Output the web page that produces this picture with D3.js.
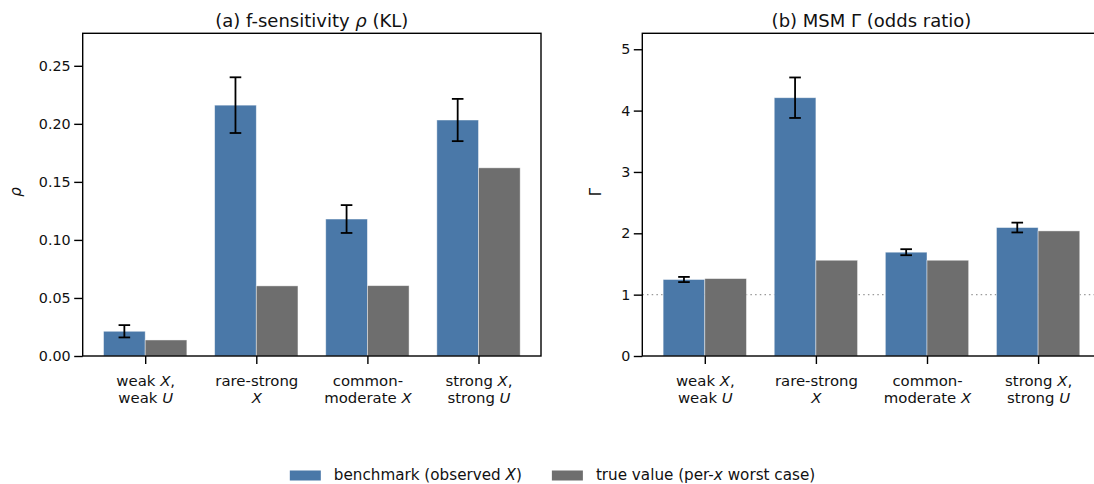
<!DOCTYPE html>
<html>
<head>
<meta charset="utf-8">
<script src="https://cdn.jsdelivr.net/npm/d3@7"></script>
<style>
  html, body { margin: 0; padding: 0; background: #fff; }
  svg { display: block; font-family: "DejaVu Sans", sans-serif; }
</style>
</head>
<body>
<svg id="chart" width="1094" height="484"></svg>
<script>
// Scenario labels: "|" separates lines, $...$ marks italic symbols
const categories = ["weak $X$,|weak $U$", "rare-strong|$X$", "common-|moderate $X$", "strong $X$,|strong $U$"];

// Panel (a): f-sensitivity rho (KL)
const rhoBenchmark = [0.0213, 0.2161, 0.1180, 0.2033];
const rhoBenchmarkErr = [0.0053, 0.0240, 0.0120, 0.0182];
const rhoTrue = [0.0138, 0.0604, 0.0606, 0.1621];
const rhoTicks = [0, 0.05, 0.10, 0.15, 0.20, 0.25];
const rhoMax = 0.278;

// Panel (b): MSM Gamma (odds ratio)
const gammaBenchmark = [1.247, 4.21, 1.692, 2.094];
const gammaBenchmarkErr = [0.042, 0.33, 0.049, 0.08];
const gammaTrue = [1.262, 1.561, 1.561, 2.039];
const gammaTicks = [0, 1, 2, 3, 4, 5];
const gammaMax = 5.26;
const gammaReference = 1;

const seriesNames = ["benchmark (observed $X$)", "true value (per-$x$ worst case)"];
const colors = ["#4a78a8", "#6e6e6e"];

const svg = d3.select("#chart");
const barWidth = 0.375;
const axW = 458.3, axTop = 33.3, axBottom = 356;

// Renders mathtext-like strings with $...$ italic segments into a text element
function richText(sel, str) {
  str.split("$").forEach((part, k) => {
    if (!part) return;
    sel.append("tspan").attr("font-style", k % 2 ? "italic" : null).text(part);
  });
}

function panel(opts) {
  const g = svg.append("g");
  const x = d3.scaleLinear().domain([-0.5625, 3.5625]).range([opts.left, opts.left + axW]);
  const y = d3.scaleLinear().domain([0, opts.ymax]).range([axBottom, axTop]);
  const idx = d3.range(categories.length);

  // reference line
  if (opts.refLine !== undefined) {
    g.append("line")
      .attr("x1", x.range()[0]).attr("x2", x.range()[1])
      .attr("y1", y(opts.refLine)).attr("y2", y(opts.refLine))
      .attr("stroke", "#999").attr("stroke-width", 1.4)
      .attr("stroke-dasharray", "1.5,3.2");
  }

  // benchmark bars
  g.selectAll("rect.bench").data(idx).join("rect").attr("class", "bench")
    .attr("x", i => x(i - barWidth)).attr("width", x(barWidth) - x(0))
    .attr("y", i => y(opts.bench[i])).attr("height", i => y(0) - y(opts.bench[i]))
    .attr("fill", colors[0]).attr("stroke", "#fff").attr("stroke-opacity", 0.55).attr("stroke-width", 0.8);

  // true value bars
  g.selectAll("rect.truth").data(idx).join("rect").attr("class", "truth")
    .attr("x", i => x(i)).attr("width", x(barWidth) - x(0))
    .attr("y", i => y(opts.truth[i])).attr("height", i => y(0) - y(opts.truth[i]))
    .attr("fill", colors[1]).attr("stroke", "#fff").attr("stroke-opacity", 0.55).attr("stroke-width", 0.8);

  // error bars on the benchmark
  const eb = g.selectAll("g.err").data(idx).join("g").attr("class", "err")
    .attr("stroke", "#000").attr("stroke-width", 1.8);
  const cx = i => x(i - barWidth / 2);
  eb.append("line").attr("x1", cx).attr("x2", cx)
    .attr("y1", i => y(opts.bench[i] - opts.err[i])).attr("y2", i => y(opts.bench[i] + opts.err[i]));
  [-1, 1].forEach(s => {
    eb.append("line").attr("x1", i => cx(i) - 5.8).attr("x2", i => cx(i) + 5.8)
      .attr("y1", i => y(opts.bench[i] + s * opts.err[i])).attr("y2", i => y(opts.bench[i] + s * opts.err[i]));
  });

  // y axis
  const yAxis = g.append("g").attr("transform", `translate(${opts.left},0)`)
    .call(d3.axisLeft(y).tickValues(opts.ticks).tickFormat(opts.fmt).tickSize(8.5).tickPadding(3.5));
  yAxis.select(".domain").remove();
  yAxis.selectAll(".tick line").attr("stroke-width", 1.4);
  yAxis.selectAll(".tick text").attr("font-size", 14.3).attr("fill", "#111").attr("font-family", "DejaVu Sans");

  // x axis
  const xAxis = g.append("g").attr("transform", `translate(0,${axBottom})`)
    .call(d3.axisBottom(x).tickValues(idx).tickFormat("").tickSize(8).tickSizeOuter(0));
  xAxis.select(".domain").remove();
  xAxis.selectAll(".tick line").attr("stroke-width", 1.4);
  xAxis.selectAll(".tick").each(function(i) {
    const t = d3.select(this).append("text").attr("fill", "#111").attr("font-size", 14.9)
      .attr("font-family", "DejaVu Sans").attr("text-anchor", "middle");
    categories[i].split("|").forEach((line, k) => {
      const tl = t.append("tspan").attr("x", 0).attr("y", 30 + k * 17);
      line.split("$").forEach((part, m) => {
        if (!part) return;
        tl.append("tspan").attr("font-style", m % 2 ? "italic" : null).text(part);
      });
    });
  });

  // frame
  g.append("rect").attr("x", opts.left).attr("y", axTop)
    .attr("width", axW).attr("height", axBottom - axTop)
    .attr("fill", "none").attr("stroke", "#000").attr("stroke-width", 1.4);

  // title
  const title = g.append("text").attr("x", opts.left + axW / 2).attr("y", 26.5)
    .attr("text-anchor", "middle").attr("font-size", 18).attr("fill", "#111");
  richText(title, opts.title);

  // y label
  g.append("text").attr("transform", `translate(${opts.labelX},192) rotate(-90)`)
    .attr("text-anchor", "middle").attr("font-size", 15).attr("fill", "#111")
    .attr("font-style", opts.labelItalic ? "italic" : null).text(opts.label);
}

panel({
  left: 82.7, ymax: rhoMax, ticks: rhoTicks, fmt: d3.format(".2f"),
  bench: rhoBenchmark, err: rhoBenchmarkErr, truth: rhoTrue,
  title: "(a) f-sensitivity $ρ$ (KL)", label: "ρ", labelItalic: true, labelX: 21
});
panel({
  left: 642.3, ymax: gammaMax, ticks: gammaTicks, fmt: d3.format("d"),
  bench: gammaBenchmark, err: gammaBenchmarkErr, truth: gammaTrue,
  title: "(b) MSM Γ (odds ratio)", label: "Γ", labelItalic: false, labelX: 601,
  refLine: gammaReference
});

// legend along the bottom, centred under both panels
const legend = svg.append("g");
let cursor = 0;
seriesNames.forEach((name, k) => {
  const item = legend.append("g").attr("transform", `translate(${cursor},0)`);
  item.append("rect").attr("x", 0).attr("y", 470.5).attr("width", 31).attr("height", 10)
    .attr("fill", colors[k]);
  const t = item.append("text").attr("x", 44).attr("y", 480).attr("font-size", 15.2).attr("fill", "#111");
  richText(t, name);
  cursor += 44 + t.node().getComputedTextLength() + 30;
});
const totalW = cursor - 30;
legend.attr("transform", `translate(${552.5 - totalW / 2},0)`);
</script>
</body>
</html>
